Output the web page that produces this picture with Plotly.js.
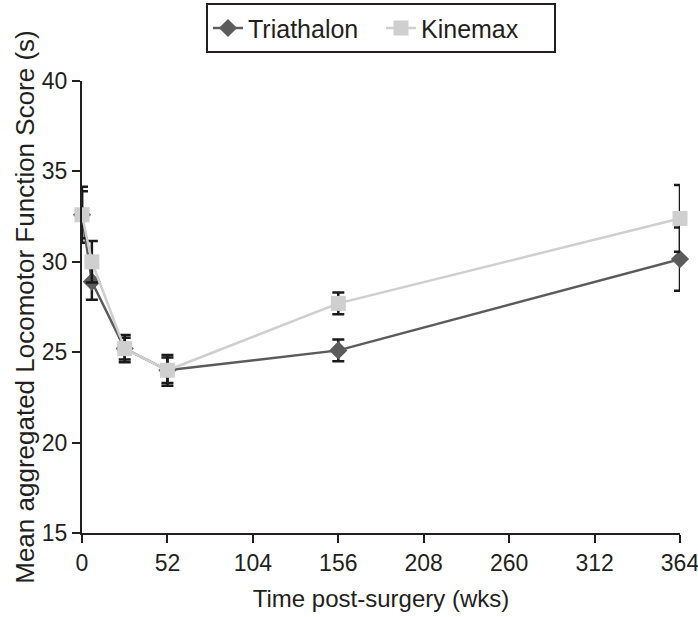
<!DOCTYPE html>
<html>
<head>
<meta charset="utf-8">
<script src="https://cdn.plot.ly/plotly-3.0.1.min.js"></script>
<style>
  html, body { margin: 0; padding: 0; background: #fff; }
  #chart { width: 698px; height: 617px; }
</style>
</head>
<body>
<div id="chart"></div>
<script>
// weeks after surgery
const weeks = [0, 6, 26, 52, 156, 364];

const triathalonMean = [32.6, 28.9, 25.2, 24.0, 25.1, 30.15];
const triathalonErr  = [1.55, 1.0, 0.75, 0.7, 0.6, 1.75];

const kinemaxMean = [32.6, 30.0, 25.2, 24.0, 27.7, 32.4];
const kinemaxErr  = [1.3, 1.15, 0.6, 0.85, 0.6, 1.85];

const xTicks = [0, 52, 104, 156, 208, 260, 312, 364];
const yTicks = [15, 20, 25, 30, 35, 40];

const font = 'Liberation Sans, Arial, sans-serif';

const traces = [
  {
    name: 'Triathalon',
    x: weeks,
    y: triathalonMean,
    type: 'scatter',
    mode: 'lines+markers',
    line: {color: '#5b5b5b', width: 2.5},
    marker: {symbol: 'diamond', size: 14, color: '#5b5b5b'},
    error_y: {type: 'data', array: triathalonErr, visible: true,
              color: '#1a1a1a', thickness: 2.5, width: 6},
    cliponaxis: false
  },
  {
    name: 'Kinemax',
    x: weeks,
    y: kinemaxMean,
    type: 'scatter',
    mode: 'lines+markers',
    line: {color: '#cfcfcf', width: 2.5},
    marker: {symbol: 'square', size: 15, color: '#cfcfcf'},
    error_y: {type: 'data', array: kinemaxErr, visible: true,
              color: '#1a1a1a', thickness: 2.5, width: 6},
    cliponaxis: false
  }
];

const layout = {
  width: 698,
  height: 617,
  margin: {l: 82, r: 18, t: 81, b: 84, autoexpand: false},
  paper_bgcolor: '#fff',
  plot_bgcolor: '#fff',
  font: {family: font, size: 23, color: '#231f20'},
  showlegend: true,
  legend: {
    orientation: 'h',
    x: 0.5, xanchor: 'center',
    y: 1.172, yanchor: 'top',
    entrywidth: 128,
    bordercolor: '#231f20',
    borderwidth: 2,
    font: {family: font, size: 25, color: '#231f20'}
  },
  xaxis: {
    range: [0, 364],
    tickvals: xTicks,
    ticks: 'outside',
    ticklen: 8,
    tickwidth: 2,
    tickcolor: '#231f20',
    ticklabeloverflow: 'allow',
    showline: true,
    linecolor: '#231f20',
    linewidth: 2,
    showgrid: false,
    zeroline: false,
    tickfont: {size: 23},
    title: {text: 'Time post-surgery (wks)', font: {size: 24}, standoff: 16}
  },
  yaxis: {
    range: [15, 40],
    tickvals: yTicks,
    ticks: 'outside',
    ticklen: 8,
    tickwidth: 2,
    tickcolor: '#231f20',
    showline: true,
    linecolor: '#231f20',
    linewidth: 2,
    showgrid: false,
    zeroline: false,
    tickfont: {size: 23},
    title: {text: 'Mean aggregated Locomotor Function Score (s)', font: {size: 26}, standoff: 0}
  }
};

Plotly.newPlot('chart', traces, layout, {displayModeBar: false, staticPlot: true});
</script>
</body>
</html>
